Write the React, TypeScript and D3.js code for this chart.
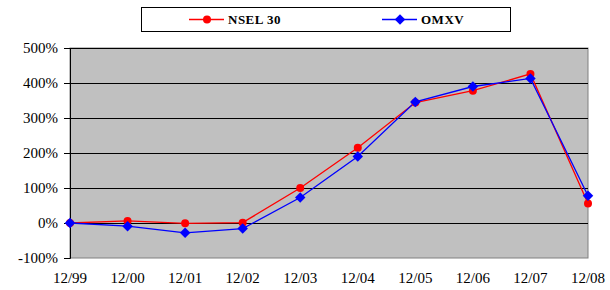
import * as d3 from "d3";
import { useEffect, useRef } from "react";

const periods = ["12/99", "12/00", "12/01", "12/02", "12/03", "12/04", "12/05", "12/06", "12/07", "12/08"];
const nsel30 = [0, 6, -1, 1, 100, 215, 344, 378, 426, 56];
const omxv = [0, -9, -28, -16, 73, 190, 346, 390, 413, 78];
const yTicks = [-100, 0, 100, 200, 300, 400, 500];

const App = () => {
  const ref = useRef<SVGSVGElement | null>(null);

  useEffect(() => {
    const svg = d3.select(ref.current);
    svg.selectAll("*").remove();

    const width = 610,
      height = 290,
      margin = { top: 48, right: 22, bottom: 32, left: 70 };
    const font = "Liberation Serif";

    const x = d3
      .scalePoint()
      .domain(periods)
      .range([margin.left, width - margin.right]);
    const y = d3
      .scaleLinear()
      .domain([-100, 500])
      .range([height - margin.bottom, margin.top]);

    // plot area
    svg
      .append("rect")
      .attr("x", margin.left)
      .attr("y", margin.top)
      .attr("width", width - margin.left - margin.right)
      .attr("height", height - margin.top - margin.bottom)
      .attr("fill", "#c0c0c0")
      .attr("stroke", "#808080")
      .attr("stroke-width", 1);

    // gridlines
    svg
      .append("g")
      .selectAll("line")
      .data(yTicks.filter((t) => t !== -100))
      .join("line")
      .attr("x1", margin.left)
      .attr("x2", width - margin.right)
      .attr("y1", (d) => Math.round(y(d)) + 0.5)
      .attr("y2", (d) => Math.round(y(d)) + 0.5)
      .attr("stroke", "#000")
      .attr("stroke-width", 1);

    // y axis
    const yAxis = svg
      .append("g")
      .attr("transform", `translate(${margin.left},0)`)
      .call(
        d3
          .axisLeft(y)
          .tickValues(yTicks)
          .tickSize(6)
          .tickPadding(6)
          .tickFormat((d) => `${d}%`)
      );
    yAxis.attr("font-family", null).attr("font-size", null);
    yAxis.select(".domain").attr("stroke", "#000");
    yAxis.selectAll("text").style("font-family", font).style("font-size", "15px").attr("fill", "#000");

    // x labels
    svg
      .append("g")
      .selectAll("text")
      .data(periods)
      .join("text")
      .attr("x", (d) => x(d) ?? 0)
      .attr("y", height - 7)
      .attr("text-anchor", "middle")
      .style("font-family", font)
      .style("font-size", "15px")
      .text((d) => d);

    const line = d3
      .line<number>()
      .x((_, i) => x(periods[i]) ?? 0)
      .y((d) => y(d));

    svg
      .append("path")
      .datum(nsel30)
      .attr("fill", "none")
      .attr("stroke", "#ff0000")
      .attr("stroke-width", 1.3)
      .attr("d", line);
    svg
      .append("path")
      .datum(omxv)
      .attr("fill", "none")
      .attr("stroke", "#0000ff")
      .attr("stroke-width", 1.3)
      .attr("d", line);

    svg
      .append("g")
      .selectAll("circle")
      .data(nsel30)
      .join("circle")
      .attr("cx", (_, i) => x(periods[i]) ?? 0)
      .attr("cy", (d) => y(d))
      .attr("r", 4)
      .attr("fill", "#ff0000");

    const diamond = d3.symbol(d3.symbolDiamond2, 70);
    svg
      .append("g")
      .selectAll("path")
      .data(omxv)
      .join("path")
      .attr("transform", (d, i) => `translate(${x(periods[i])},${y(d)})`)
      .attr("d", diamond)
      .attr("fill", "#0000ff");

    // legend
    const legend = svg.append("g");
    legend
      .append("rect")
      .attr("x", 141.5)
      .attr("y", 7.5)
      .attr("width", 369)
      .attr("height", 24)
      .attr("fill", "#fff")
      .attr("stroke", "#000");
    const items = [
      { name: "NSEL 30", color: "#ff0000", x0: 189, tx: 228, shape: "circle" },
      { name: "OMXV", color: "#0000ff", x0: 382, tx: 421, shape: "diamond" },
    ];
    items.forEach((it) => {
      legend
        .append("line")
        .attr("x1", it.x0)
        .attr("x2", it.x0 + 35)
        .attr("y1", 19.5)
        .attr("y2", 19.5)
        .attr("stroke", it.color)
        .attr("stroke-width", 1.3);
      if (it.shape === "circle") {
        legend.append("circle").attr("cx", it.x0 + 18).attr("cy", 19.5).attr("r", 4).attr("fill", it.color);
      } else {
        legend
          .append("path")
          .attr("transform", `translate(${it.x0 + 18},19.5)`)
          .attr("d", diamond)
          .attr("fill", it.color);
      }
      legend
        .append("text")
        .attr("x", it.tx)
        .attr("y", 24)
        .style("font-family", font)
        .style("font-size", "13px")
        .style("font-weight", "bold")
        .style("letter-spacing", "0.5px")
        .text(it.name);
    });
  }, []);

  return <svg ref={ref} width={610} height={290} style={{ position: "absolute", left: 0, top: 0 }}></svg>;
};

export default App;
